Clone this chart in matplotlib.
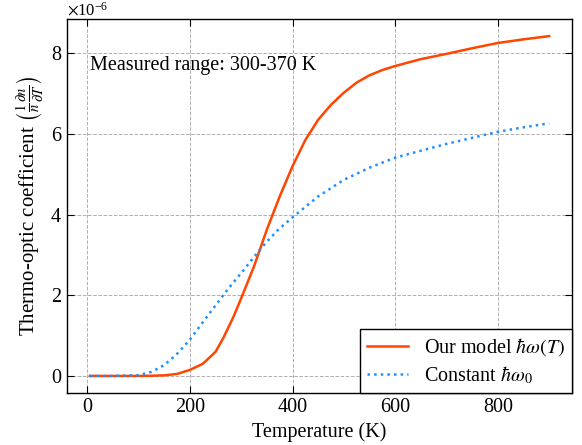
import numpy as np
from matplotlib import pyplot as plt
from matplotlib.ticker import ScalarFormatter

# Temperature grid (K) and thermo-optic coefficient (x1e-6)
temps_model = [5, 50, 100, 125, 150, 175, 200, 225, 250, 265, 285, 300, 325, 350, 375, 400,
               425, 450, 475, 500, 525, 550, 575, 600, 650, 700, 750, 800, 850, 900]
coef_model = [0.0, 0.0, 0.0, 0.005, 0.015, 0.05, 0.15, 0.3, 0.6, 0.94, 1.47, 1.93, 2.72, 3.63,
              4.45, 5.2, 5.85, 6.35, 6.72, 7.02, 7.27, 7.45, 7.58, 7.68, 7.85, 7.98, 8.12, 8.25,
              8.34, 8.42]

temps_const = [5, 50, 100, 125, 150, 175, 200, 225, 250, 275, 300, 325, 350, 375, 400,
               450, 500, 550, 600, 650, 700, 750, 800, 850, 900]
coef_const = [0.0, 0.0, 0.02, 0.1, 0.27, 0.55, 0.9, 1.33, 1.75, 2.17, 2.55, 2.95, 3.33, 3.66, 3.93,
              4.45, 4.86, 5.16, 5.41, 5.58, 5.75, 5.9, 6.05, 6.16, 6.26]

plt.rcParams['font.family'] = ['Liberation Serif', 'DejaVu Serif']
plt.rcParams['mathtext.fontset'] = 'stix'
plt.rcParams['font.size'] = 14.5

fig = plt.figure(figsize=(5.82, 4.45), dpi=100)
ax = fig.add_axes([0.115, 0.117, 0.868, 0.84])

ax.plot(temps_model, np.array(coef_model) * 1e-6, color='orangered', linewidth=1.8,
        label=r'Our model $\hbar\omega(T)$')
ax.plot(temps_const, np.array(coef_const) * 1e-6, color='dodgerblue', linewidth=1.8,
        linestyle=':', label=r'Constant $\hbar\omega_0$')

ax.text(5, 7.7e-6, 'Measured range: 300-370 K', va='center', ha='left')

ax.set_xlabel('Temperature (K)')
ax.set_ylabel(r'Thermo-optic coefficient $\left(\frac{1}{n}\frac{\partial n}{\partial T}\right)$',
              fontsize=15, labelpad=4)
ax.set_xticks([0, 200, 400, 600, 800])
ax.set_yticks(np.array([0, 2, 4, 6, 8]) * 1e-6)
fmt = ScalarFormatter(useMathText=True)
fmt.set_powerlimits((0, 0))
ax.yaxis.set_major_formatter(fmt)
ax.yaxis.get_offset_text().set_fontsize(12)
ax.tick_params(direction='in', top=True, right=True, length=5)
ax.grid(True, linestyle='--', linewidth=0.7, color='#b0b0b0')
for s in ax.spines.values():
    s.set_linewidth(1.0)

leg = ax.legend(loc='lower right', fancybox=False, framealpha=1, edgecolor='black',
                borderaxespad=0, handlelength=2.0, labelspacing=0.3, borderpad=0.35)
leg.get_frame().set_linewidth(1.0)

plt.savefig('out.png', dpi=100)
